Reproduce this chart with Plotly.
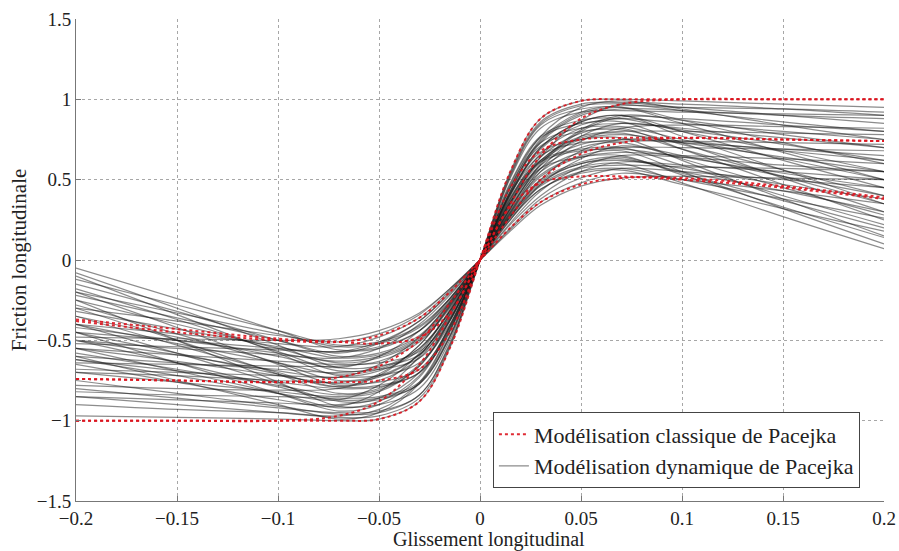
import plotly.graph_objects as go

# Longitudinal slip sample points (shared by all curves)
slip = [-0.2, -0.15, -0.1, -0.07, -0.05, -0.03, -0.015, 0.0,
        0.015, 0.03, 0.05, 0.07, 0.1, 0.15, 0.2]

# Classic Pacejka curves (red)
classic_curves = [
    [-1.00, -1.00, -1.00, -1.00, -0.99, -0.88, -0.55, 0, 0.55, 0.88, 0.99, 1.00, 1.00, 1.00, 1.00],
    [-1.00, -1.00, -1.00, -0.97, -0.88, -0.65, -0.35, 0, 0.35, 0.65, 0.88, 0.97, 1.00, 1.00, 1.00],
    [-0.74, -0.75, -0.76, -0.76, -0.75, -0.68, -0.45, 0, 0.45, 0.68, 0.75, 0.76, 0.76, 0.75, 0.74],
    [-0.74, -0.75, -0.76, -0.73, -0.66, -0.50, -0.27, 0, 0.27, 0.50, 0.66, 0.73, 0.76, 0.75, 0.74],
    [-0.37, -0.43, -0.49, -0.51, -0.52, -0.48, -0.33, 0, 0.33, 0.48, 0.52, 0.52, 0.50, 0.45, 0.38],
    [-0.38, -0.45, -0.50, -0.51, -0.47, -0.36, -0.20, 0, 0.20, 0.36, 0.47, 0.51, 0.51, 0.46, 0.39],
]

# Dynamic Pacejka curves (black)
dynamic_curves = [
    [-0.97, -0.98, -0.99, -1.00, -0.99, -0.88, -0.55, 0, 0.55, 0.88, 0.99, 1.00, 0.99, 0.97, 0.95],
    [-0.80, -0.86, -0.92, -0.95, -0.94, -0.84, -0.52, 0, 0.54, 0.86, 0.97, 0.98, 0.95, 0.90, 0.85],
    [-0.55, -0.69, -0.83, -0.92, -0.88, -0.72, -0.41, 0, 0.43, 0.74, 0.91, 0.95, 0.87, 0.73, 0.60],
    [-0.85, -0.87, -0.89, -0.90, -0.86, -0.70, -0.41, 0, 0.51, 0.82, 0.92, 0.93, 0.92, 0.91, 0.90],
    [-0.40, -0.58, -0.77, -0.88, -0.87, -0.77, -0.48, 0, 0.41, 0.70, 0.86, 0.90, 0.80, 0.62, 0.45],
    [-0.70, -0.76, -0.82, -0.85, -0.82, -0.66, -0.38, 0, 0.40, 0.69, 0.84, 0.88, 0.85, 0.80, 0.75],
    [-0.30, -0.50, -0.71, -0.83, -0.80, -0.65, -0.37, 0, 0.47, 0.76, 0.85, 0.86, 0.73, 0.51, 0.30],
    [-0.62, -0.69, -0.76, -0.80, -0.79, -0.70, -0.44, 0, 0.38, 0.66, 0.82, 0.85, 0.82, 0.76, 0.70],
    [-0.20, -0.42, -0.65, -0.78, -0.75, -0.61, -0.35, 0, 0.37, 0.64, 0.79, 0.82, 0.69, 0.47, 0.25],
    [-0.70, -0.72, -0.75, -0.76, -0.73, -0.59, -0.34, 0, 0.36, 0.62, 0.77, 0.80, 0.80, 0.79, 0.78],
    [-0.50, -0.59, -0.69, -0.73, -0.65, -0.48, -0.26, 0, 0.35, 0.61, 0.75, 0.78, 0.73, 0.64, 0.55],
    [-0.10, -0.34, -0.58, -0.72, -0.69, -0.56, -0.32, 0, 0.42, 0.67, 0.75, 0.76, 0.62, 0.38, 0.15],
    [-0.60, -0.64, -0.68, -0.70, -0.67, -0.55, -0.32, 0, 0.34, 0.59, 0.72, 0.75, 0.73, 0.69, 0.65],
    [-0.35, -0.48, -0.60, -0.67, -0.60, -0.44, -0.24, 0, 0.25, 0.47, 0.63, 0.71, 0.65, 0.52, 0.40],
    [-0.64, -0.65, -0.66, -0.66, -0.63, -0.51, -0.30, 0, 0.32, 0.55, 0.67, 0.70, 0.70, 0.69, 0.68],
    [-0.25, -0.40, -0.55, -0.64, -0.61, -0.50, -0.29, 0, 0.31, 0.53, 0.65, 0.68, 0.55, 0.32, 0.10],
    [-0.50, -0.55, -0.59, -0.61, -0.55, -0.40, -0.22, 0, 0.23, 0.43, 0.58, 0.65, 0.64, 0.59, 0.55],
    [-0.15, -0.32, -0.50, -0.60, -0.58, -0.47, -0.27, 0, 0.29, 0.50, 0.61, 0.64, 0.54, 0.37, 0.20],
    [-0.45, -0.50, -0.55, -0.57, -0.51, -0.38, -0.20, 0, 0.22, 0.40, 0.55, 0.61, 0.59, 0.55, 0.50],
    [-0.05, -0.24, -0.44, -0.56, -0.54, -0.44, -0.25, 0, 0.27, 0.47, 0.58, 0.60, 0.48, 0.27, 0.07],
    [-0.40, -0.46, -0.52, -0.54, -0.48, -0.36, -0.19, 0, 0.20, 0.38, 0.51, 0.57, 0.55, 0.50, 0.45],
    [-0.30, -0.38, -0.47, -0.51, -0.46, -0.34, -0.18, 0, 0.19, 0.36, 0.48, 0.54, 0.50, 0.43, 0.35],
    [-0.48, -0.49, -0.50, -0.49, -0.44, -0.33, -0.18, 0, 0.18, 0.34, 0.46, 0.51, 0.52, 0.51, 0.50],
    [-0.90, -0.93, -0.95, -0.97, -0.93, -0.76, -0.44, 0, 0.43, 0.75, 0.92, 0.96, 0.95, 0.94, 0.92],
    [-0.65, -0.76, -0.87, -0.91, -0.82, -0.60, -0.33, 0, 0.32, 0.60, 0.81, 0.90, 0.87, 0.78, 0.70],
    [-0.50, -0.64, -0.79, -0.87, -0.86, -0.77, -0.48, 0, 0.48, 0.77, 0.87, 0.88, 0.80, 0.68, 0.55],
    [-0.78, -0.80, -0.81, -0.80, -0.72, -0.53, -0.29, 0, 0.29, 0.55, 0.74, 0.82, 0.84, 0.83, 0.82],
    [-0.45, -0.58, -0.71, -0.79, -0.78, -0.70, -0.43, 0, 0.45, 0.71, 0.80, 0.81, 0.72, 0.56, 0.40],
    [-0.68, -0.70, -0.72, -0.73, -0.72, -0.64, -0.40, 0, 0.41, 0.65, 0.73, 0.74, 0.74, 0.73, 0.72],
    [-0.18, -0.37, -0.57, -0.69, -0.68, -0.61, -0.38, 0, 0.39, 0.62, 0.69, 0.70, 0.59, 0.40, 0.22],
    [-0.55, -0.59, -0.63, -0.65, -0.64, -0.57, -0.36, 0, 0.30, 0.52, 0.64, 0.67, 0.65, 0.63, 0.60],
    [-0.32, -0.43, -0.54, -0.61, -0.59, -0.48, -0.27, 0, 0.28, 0.49, 0.60, 0.63, 0.55, 0.43, 0.30],
    [-0.52, -0.54, -0.56, -0.57, -0.55, -0.44, -0.26, 0, 0.27, 0.46, 0.57, 0.59, 0.58, 0.57, 0.55],
    [-0.12, -0.28, -0.44, -0.53, -0.51, -0.41, -0.24, 0, 0.25, 0.44, 0.54, 0.56, 0.47, 0.32, 0.18],
    [-0.60, -0.75, -0.90, -0.99, -0.95, -0.77, -0.45, 0, 0.45, 0.77, 0.95, 0.99, 0.94, 0.84, 0.75],
    [-0.25, -0.50, -0.76, -0.91, -0.90, -0.80, -0.50, 0, 0.41, 0.70, 0.86, 0.90, 0.77, 0.56, 0.35],
    [-0.75, -0.83, -0.91, -0.96, -0.95, -0.84, -0.53, 0, 0.53, 0.85, 0.96, 0.97, 0.93, 0.86, 0.80],
    [-0.62, -0.72, -0.83, -0.87, -0.78, -0.58, -0.31, 0, 0.42, 0.73, 0.90, 0.94, 0.93, 0.90, 0.88],
    [-0.58, -0.68, -0.78, -0.84, -0.81, -0.66, -0.38, 0, 0.30, 0.57, 0.77, 0.85, 0.81, 0.72, 0.62],
    [-0.35, -0.53, -0.70, -0.79, -0.71, -0.53, -0.28, 0, 0.46, 0.73, 0.82, 0.83, 0.75, 0.63, 0.50],
    [-0.55, -0.63, -0.72, -0.77, -0.76, -0.68, -0.42, 0, 0.36, 0.62, 0.76, 0.79, 0.69, 0.52, 0.35],
    [-0.28, -0.46, -0.64, -0.75, -0.72, -0.59, -0.34, 0, 0.27, 0.50, 0.68, 0.75, 0.74, 0.68, 0.62],
    [-0.40, -0.52, -0.64, -0.71, -0.68, -0.55, -0.32, 0, 0.33, 0.57, 0.70, 0.73, 0.63, 0.45, 0.28],
    [-0.08, -0.30, -0.53, -0.67, -0.66, -0.59, -0.37, 0, 0.38, 0.61, 0.68, 0.69, 0.64, 0.54, 0.45],
    [-0.42, -0.50, -0.58, -0.63, -0.60, -0.49, -0.28, 0, 0.36, 0.57, 0.64, 0.65, 0.53, 0.33, 0.14],
    [-0.22, -0.36, -0.50, -0.58, -0.52, -0.38, -0.21, 0, 0.28, 0.48, 0.60, 0.62, 0.57, 0.47, 0.38],
    [-0.45, -0.64, -0.83, -0.94, -0.90, -0.73, -0.42, 0, 0.52, 0.84, 0.94, 0.95, 0.85, 0.67, 0.50],
    [-0.82, -0.84, -0.85, -0.86, -0.85, -0.76, -0.47, 0, 0.32, 0.59, 0.80, 0.89, 0.88, 0.84, 0.80],
    [-0.20, -0.33, -0.46, -0.54, -0.52, -0.42, -0.24, 0, 0.26, 0.44, 0.55, 0.57, 0.50, 0.38, 0.26],
    [-0.85, -0.90, -0.95, -0.98, -0.97, -0.86, -0.54, 0, 0.35, 0.64, 0.87, 0.97, 0.97, 0.94, 0.90],
]

x_tickvals = [-0.2, -0.15, -0.1, -0.05, 0, 0.05, 0.1, 0.15, 0.2]
x_ticktext = ["\u22120.2", "\u22120.15", "\u22120.1", "\u22120.05", "0", "0.05", "0.1", "0.15", "0.2"]
y_tickvals = [-1.5, -1, -0.5, 0, 0.5, 1, 1.5]
y_ticktext = ["\u22121.5", "\u22121", "\u22120.5", "0", "0.5", "1", "1.5"]

x_title = "Glissement longitudinal"
y_title = "Friction longitudinale"
legend_classic = "Modélisation classique de Pacejka"
legend_dynamic = "Modélisation dynamique de Pacejka"

fig = go.Figure()

for i, ys in enumerate(dynamic_curves):
    fig.add_trace(go.Scatter(
        x=slip, y=ys, mode="lines", line_shape="spline",
        line=dict(color="rgba(25,25,25,0.5)", width=1.2),
        name=legend_dynamic, legendgroup="dyn", showlegend=(i == 0),
        legendrank=2, hoverinfo="skip",
    ))

for i, ys in enumerate(classic_curves):
    fig.add_trace(go.Scatter(
        x=slip, y=ys, mode="lines", line_shape="spline",
        line=dict(color="rgba(220,20,30,0.9)", width=2, dash="dot"),
        name=legend_classic, legendgroup="cls", showlegend=(i == 0),
        legendrank=1, hoverinfo="skip",
    ))

font_family = "Liberation Serif"

fig.update_layout(
    width=899, height=551,
    margin=dict(l=76, r=15, t=19, b=50),
    paper_bgcolor="white", plot_bgcolor="white",
    font=dict(family=font_family, size=19, color="#222"),
    showlegend=True,
    legend=dict(
        x=0.516, y=0.105, xanchor="left", yanchor="middle",
        bgcolor="white", bordercolor="#444", borderwidth=1,
        font=dict(family=font_family, size=22, color="#222"),
        tracegroupgap=0, itemwidth=30,
    ),
    xaxis=dict(
        range=[-0.2, 0.2], tickvals=x_tickvals, ticktext=x_ticktext,
        automargin=False,
        showgrid=True, gridcolor="rgba(130,130,130,0.7)", griddash="dot", gridwidth=1,
        zeroline=False, showline=True, linecolor="#777", linewidth=1,
        ticks="inside", ticklen=5, tickcolor="#777",
    ),
    yaxis=dict(
        range=[-1.5, 1.5], tickvals=y_tickvals, ticktext=y_ticktext,
        automargin=False,
        showgrid=True, gridcolor="rgba(130,130,130,0.7)", griddash="dot", gridwidth=1,
        zeroline=False, showline=True, linecolor="#777", linewidth=1,
        ticks="inside", ticklen=5, tickcolor="#777",
        title=dict(text=y_title, standoff=4,
                   font=dict(family=font_family, size=21, color="#222")),
    ),
    annotations=[dict(
        text=x_title, xref="paper", yref="paper", x=0.511, y=0,
        xanchor="center", yanchor="middle", yshift=-38, showarrow=False,
        font=dict(family=font_family, size=20, color="#222"),
    )],
)

fig.write_html("out.html", config={"displayModeBar": False},
               post_script="document.body.style.margin='0';")
